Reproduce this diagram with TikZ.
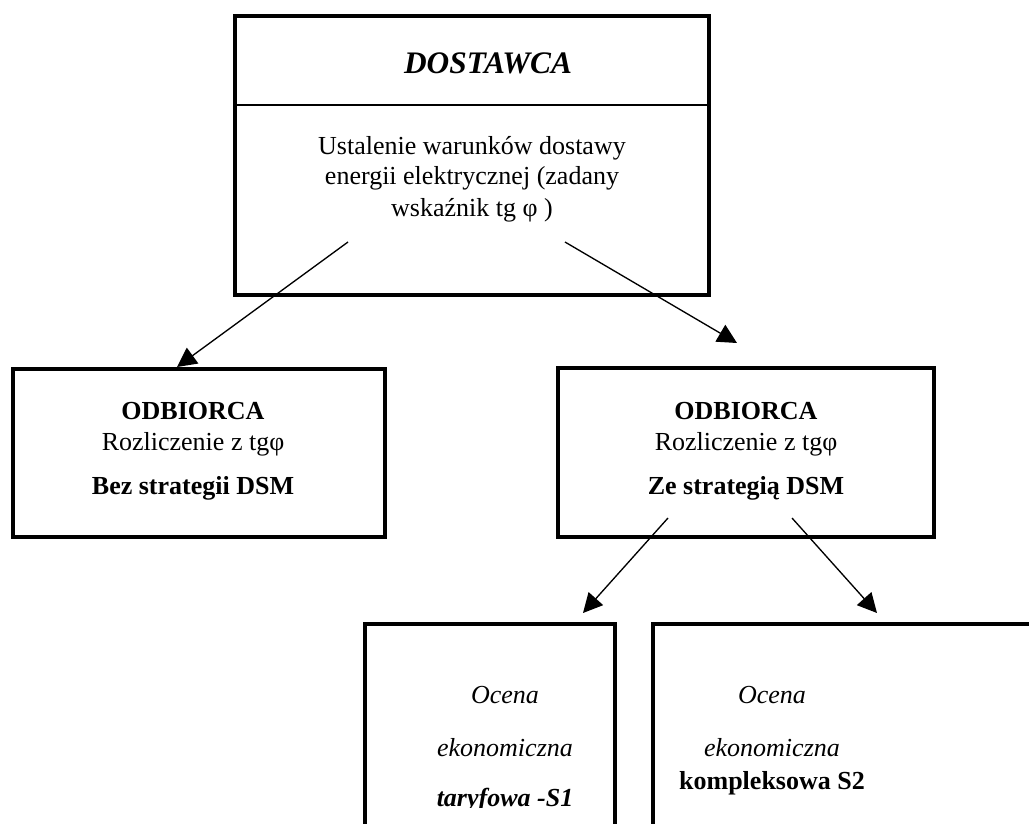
\documentclass[tikz,border=0pt]{standalone}
\usepackage{fontspec}
\setmainfont{Liberation Serif}
\usetikzlibrary{arrows.meta}
\begin{document}
\begin{tikzpicture}[x=0.75pt,y=-0.75pt,
  frame/.style={draw,line width=2.6pt,inner sep=0pt,outer sep=0pt},
  txt/.style={inner sep=0pt,anchor=base,font=\fontsize{19.5}{23}\selectfont},
  head/.style={inner sep=0pt,anchor=base,font=\fontsize{23.5}{28}\selectfont\bfseries\itshape},
  link/.style={line width=1pt,-{Triangle[length=14.5pt,width=14.5pt]}}]
\useasboundingbox (0,0) rectangle (1029,824);
\clip (0,0) rectangle (1029,824);

% boxes
\node[frame,minimum width=355.5pt,minimum height=209.25pt] (sup) at (472,155.5) {};
\draw[line width=1.2pt] (sup.west |- 0,105) -- (sup.east |- 0,105);
\node[frame,minimum width=279pt,minimum height=126pt] (odl) at (199,453) {};
\node[frame,minimum width=282pt,minimum height=126.75pt] (odr) at (746,452.5) {};
\node[frame,minimum width=187.5pt,minimum height=207pt] (s1) at (490,762) {};
\node[frame,minimum width=335.25pt,minimum height=207pt] (s2) at (876.5,762) {};

% texts of the supplier box
\node[head] (t0) at (488,74) {DOSTAWCA};
\node[txt] (t1) at (472,154) {Ustalenie warunków dostawy};
\node[txt] (t2) at (472,185) {energii elektrycznej (zadany};
\node[txt] (t3) at (472,216) {wskaźnik tg φ )};

% customer without DSM
\node[txt,font=\fontsize{19.5}{23}\selectfont\bfseries] (l1) at (193,419) {ODBIORCA};
\node[txt] (l2) at (193,450) {Rozliczenie z tgφ};
\node[txt,font=\fontsize{19.5}{23}\selectfont\bfseries] (l3) at (193,494) {Bez strategii DSM};

% customer with DSM
\node[txt,font=\fontsize{19.5}{23}\selectfont\bfseries] (r1) at (746,419) {ODBIORCA};
\node[txt] (r2) at (746,450) {Rozliczenie z tgφ};
\node[txt,font=\fontsize{19.5}{23}\selectfont\bfseries] (r3) at (746,494) {Ze strategią DSM};

% economic assessments
\node[txt,font=\fontsize{19.5}{23}\selectfont\itshape] (b1) at (505,703) {Ocena};
\node[txt,font=\fontsize{19.5}{23}\selectfont\itshape] (b2) at (505,756) {ekonomiczna};
\begin{scope}
\clip (0,0) rectangle (1029,807);
\node[txt,font=\fontsize{19.5}{23}\selectfont\bfseries\itshape] (b3) at (505,806) {taryfowa -S1};
\end{scope}
\node[txt,font=\fontsize{19.5}{23}\selectfont\itshape] (c1) at (772,703) {Ocena};
\node[txt,font=\fontsize{19.5}{23}\selectfont\itshape] (c2) at (772,756) {ekonomiczna};
\node[txt,font=\fontsize{19.5}{23}\selectfont\bfseries] (c3) at (772,789) {kompleksowa S2};

% connectors
\coordinate (a1s) at (348,242); \coordinate (a1e) at (177,367);
\coordinate (a2s) at (565,242); \coordinate (a2e) at (737,343);
\coordinate (a3s) at (668,518); \coordinate (a3e) at (583,613);
\coordinate (a4s) at (792,518); \coordinate (a4e) at (877,613);
\draw[link] (a1s) -- (a1e);
\draw[link] (a2s) -- (a2e);
\draw[link] (a3s) -- (a3e);
\draw[link] (a4s) -- (a4e);
\end{tikzpicture}
\end{document}
